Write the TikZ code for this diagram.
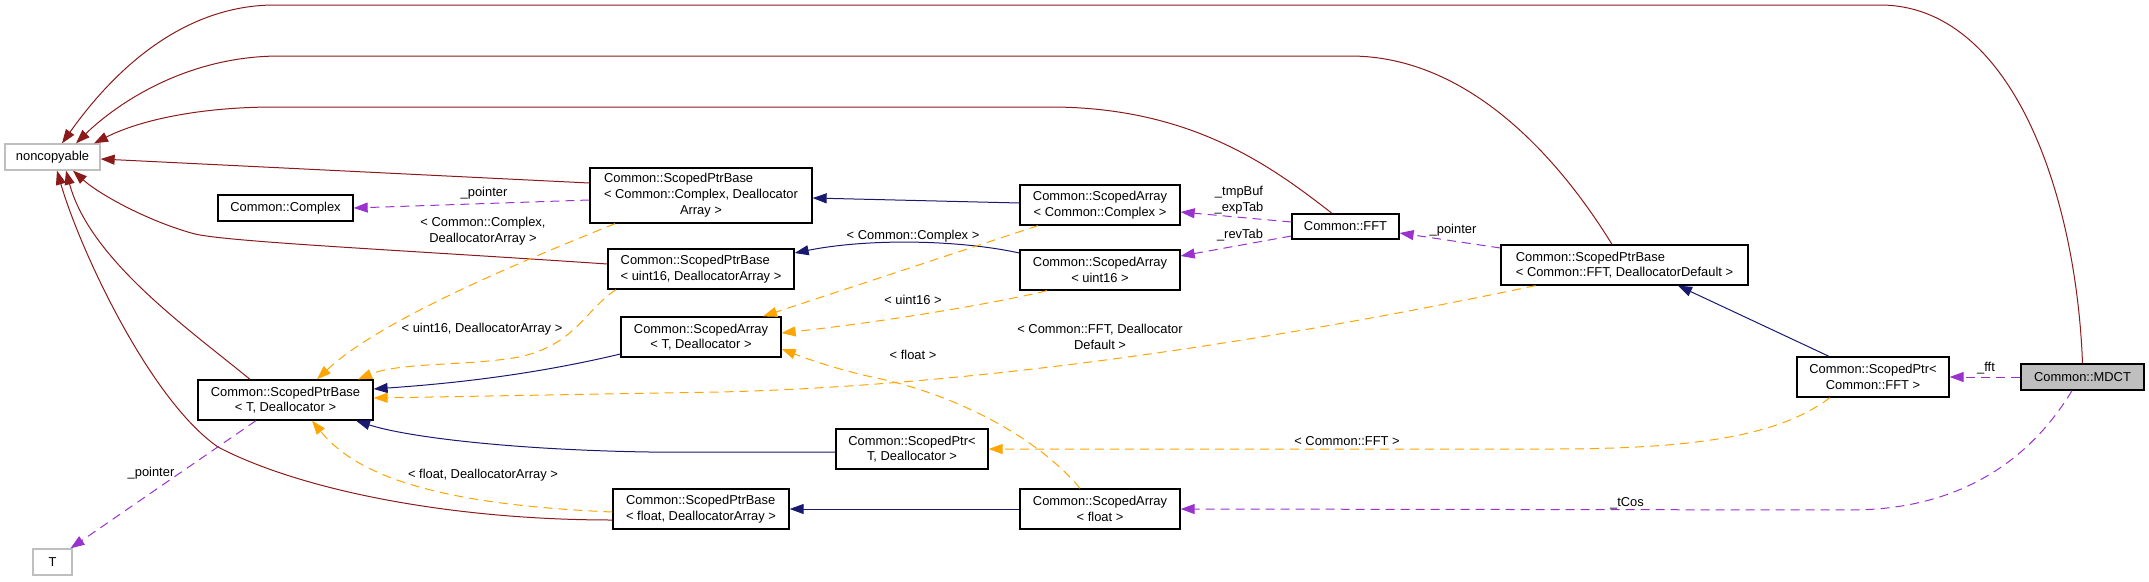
\documentclass[tikz,border=0pt]{standalone}
\usepackage{fontspec}
\setmainfont{Liberation Sans}
\usepackage{tikz}
\usetikzlibrary{arrows.meta,calc,positioning}

\definecolor{privred}{HTML}{8B1A1A}
\definecolor{pubblue}{HTML}{191970}
\definecolor{useorchid}{HTML}{9A32CD}
\definecolor{tmplorange}{HTML}{FFA500}
\definecolor{grey75}{HTML}{BFBFBF}

\begin{document}
\begin{tikzpicture}[x=1pt,y=-1pt,
	every node/.style={font=\fontsize{12.9}{15.7}\selectfont, inner sep=0pt},
	cls/.style 2 args={draw=black, line width=1.3pt, fill=white, minimum width=#1pt, minimum height=#2pt},
	ghost/.style 2 args={cls={#1}{#2}, draw=grey75},
	privinh/.style={draw=privred, line width=1pt, -{Triangle[length=14pt,width=10pt]}},
	pubinh/.style={draw=pubblue, line width=1pt, -{Triangle[length=14pt,width=10pt]}},
	tmpl/.style={draw=tmplorange, line width=1pt, dash pattern=on 9pt off 6pt, -{Triangle[length=14pt,width=10pt]}},
	usage/.style={draw=useorchid, line width=1pt, dash pattern=on 9pt off 6pt, -{Triangle[length=14pt,width=10pt]}}]
	\useasboundingbox (0,0) rectangle (2149,581);

	\node[ghost={95}{26}] (noncopyable) at (52.5,157) {noncopyable};
	\node[ghost={39}{26}] (tparam) at (52.5,562) {T};
	\node[cls={135}{26}] (complex) at (285.5,208) {Common::Complex};
	\node[cls={222}{55}] (spbcomplex) at (701,195.5) {\begin{tabular}{@{}l@{}}Common::ScopedPtrBase\\< Common::Complex, Deallocator\\\multicolumn{1}{@{}c@{}}{Array >}\end{tabular}};
	\node[cls={186}{40}, align=left] (spbuint) at (701,269) {Common::ScopedPtrBase\\< uint16, DeallocatorArray >};
	\node[cls={160}{40}, align=center] (sat) at (701,337) {Common::ScopedArray\\< T, Deallocator >};
	\node[cls={175}{40}, align=center] (spbt) at (285.5,400) {Common::ScopedPtrBase\\< T, Deallocator >};
	\node[cls={152}{40}, align=center] (spt) at (912,449) {Common::ScopedPtr<\\T, Deallocator >};
	\node[cls={176}{40}, align=left] (spbfloat) at (701,509) {Common::ScopedPtrBase\\< float, DeallocatorArray >};
	\node[cls={160}{40}, align=center] (sacomplex) at (1100,205) {Common::ScopedArray\\< Common::Complex >};
	\node[cls={160}{40}, align=center] (sauint) at (1100,270) {Common::ScopedArray\\< uint16 >};
	\node[cls={160}{40}, align=center] (safloat) at (1100,509) {Common::ScopedArray\\< float >};
	\node[cls={107}{25}] (fft) at (1345.5,226.5) {Common::FFT};
	\node[cls={247}{40}, align=left] (spbfft) at (1624.5,265) {Common::ScopedPtrBase\\< Common::FFT, DeallocatorDefault >};
	\node[cls={152}{40}, align=center] (spfft) at (1873,377) {Common::ScopedPtr<\\Common::FFT >};
	\node[cls={123}{26}, fill=grey75] (mdct) at (2082.5,377) {Common::MDCT};

	% private inheritance
	\draw[privinh] (mdct.north) .. controls (2076,190) and (2010,5) .. (1880,5) -- (275,5) .. controls (170,5) and (100,90) .. ([xshift=9.5]noncopyable.north);
	\draw[privinh] ([xshift=-12.5]spbfft.north) .. controls (1560,160) and (1470,56) .. (1350,56) -- (280,56) .. controls (180,56) and (110,110) .. ([xshift=23.5]noncopyable.north);
	\draw[privinh] ([xshift=-13.5]fft.north) .. controls (1270,165) and (1190,107) .. (1050,107) -- (275,107) .. controls (200,107) and (140,120) .. ([xshift=41.5]noncopyable.north);
	\draw[privinh] ([yshift=12.5]spbcomplex.west) -- ([yshift=-2]noncopyable.east);
	\draw[privinh] ([yshift=5]spbuint.west) .. controls (400,250) and (230,242) .. (195,234) .. controls (150,222) and (100,195) .. ([xshift=20.5]noncopyable.south);
	\draw[privinh] ([xshift=-35.5]spbt.north) .. controls (190,330) and (90,260) .. ([xshift=13.5]noncopyable.south);
	\draw[privinh] ([yshift=-11]spbfloat.west) .. controls (450,520) and (300,490) .. (218,447) .. controls (150,400) and (80,250) .. ([xshift=4.5]noncopyable.south);

	% public inheritance
	\draw[pubinh] ([yshift=2]sacomplex.west) -- ([yshift=-2.5]spbcomplex.east);
	\draw[pubinh] ([yshift=17]sauint.west) .. controls (960,240) and (870,238) .. ([yshift=16]spbuint.east);
	\draw[pubinh] ([yshift=-17]sat.west) .. controls (520,378) and (430,385) .. ([yshift=11]spbt.east);
	\draw[pubinh] ([yshift=-3]spt.west) -- (649,452) .. controls (520,450) and (410,438) .. ([xshift=70.5]spbt.south);
	\draw[pubinh] (safloat.west) -- (spbfloat.east);
	\draw[pubinh] ([xshift=-44]spfft.north) -- ([xshift=53.5]spbfft.south);

	% template instances
	\draw[tmpl] ([xshift=-86]spbcomplex.south) .. controls (520,262) and (380,320) .. ([xshift=31.5]spbt.north);
	\draw[tmpl] ([xshift=-85]spbuint.south) .. controls (585,310) and (575,345) .. (519,357) .. controls (470,366) and (400,362) .. ([xshift=72.5]spbt.north);
	\draw[tmpl] ([xshift=-89]spbfft.south) .. controls (1300,335) and (1000,385) .. (720,392) -- ([yshift=2]spbt.east);
	\draw[tmpl] ([yshift=-3]spbfloat.west) .. controls (450,505) and (360,480) .. ([xshift=26.5]spbt.south);
	\draw[tmpl] ([xshift=-62]sacomplex.south) -- ([xshift=62]sat.north);
	\draw[tmpl] ([xshift=-53]sauint.south) .. controls (1010,300) and (900,320) .. ([yshift=4]sat.east);
	\draw[tmpl] ([xshift=-20]safloat.north) .. controls (1040,440) and (960,395) .. (872,377) .. controls (840,370) and (810,360) .. ([yshift=-12]sat.east);
	\draw[tmpl] ([xshift=-43]spfft.south) .. controls (1780,435) and (1700,449) .. (1550,449) -- (spt.east);

	% members
	\draw[usage] ([yshift=-4.5]spbcomplex.west) -- (complex.east);
	\draw[usage] ([xshift=-29.5]spbt.south) -- ([xshift=18]tparam.north);
	\draw[usage] ([yshift=4.5]fft.west) -- ([yshift=-7]sacomplex.east);
	\draw[usage] ([yshift=-9.5]fft.west) -- ([yshift=14]sauint.east);
	\draw[usage] ([yshift=17]spbfft.west) -- ([yshift=-6.5]fft.east);
	\draw[usage] (mdct.west) -- (spfft.east);
	\draw[usage] ([xshift=-10.5]mdct.south) .. controls (2030,460) and (1960,510) .. (1850,510) -- (safloat.east);

	\node[align=center] (lcomplex) at (483,231) {< Common::Complex,\\DeallocatorArray >};
	\node (lptrcomplex) at (484,193) {\_pointer};
	\node (luint) at (482,329) {< uint16, DeallocatorArray >};
	\node (lfloat) at (483,475) {< float, DeallocatorArray >};
	\node (lptrt) at (151,473) {\_pointer};
	\node (lsacomplex) at (913,236) {< Common::Complex >};
	\node (lsauint) at (913,300) {< uint16 >};
	\node (lsafloat) at (913,355) {< float >};
	\node[align=center] (lfftdefault) at (1100,337) {< Common::FFT, Deallocator\\Default >};
	\node (lspfft) at (1347,441) {< Common::FFT >};
	\node[align=center] (ltmpbuf) at (1239,200) {\_tmpBuf\\\_expTab};
	\node (lrevtab) at (1240,235) {\_revTab};
	\node (lptrfft) at (1453,230) {\_pointer};
	\node (lfft) at (1986,368) {\_fft};
	\node (ltcos) at (1627,503) {\_tCos};
\end{tikzpicture}
\end{document}
